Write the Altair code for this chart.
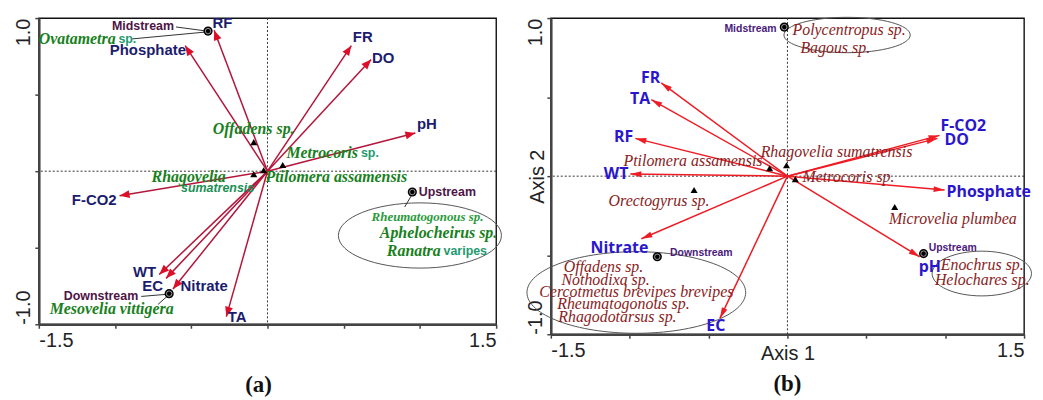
import math
import altair as alt
import pandas as pd

# ---------------- axis ticks ----------------
X_TICKS = [-1.5, -1.0, -0.5, 0.0, 0.5, 1.0, 1.5]
X_TICK_LABELS = ["-1.5", "", "", "", "", "", "1.5"]
Y_TICKS = [-1.0, -0.5, 0.0, 0.5, 1.0]
Y_TICK_LABELS = ["-1.0", "", "", "", "1.0"]

# ---------------- panel (a) ----------------
A_ENV = ["RF", "Phosphate", "FR", "DO", "pH", "F-CO2", "WT", "EC", "Nitrate", "TA"]
A_ENV_X = [-0.35, -0.54, 0.55, 0.68, 0.97, -0.97, -0.71, -0.665, -0.62, -0.27]
A_ENV_Y = [0.92, 0.82, 0.82, 0.73, 0.25, -0.16, -0.675, -0.70, -0.77, -0.95]
A_ENV_LX = [-0.36, -0.535, 0.56, 0.685, 0.98, -0.99, -0.73, -0.685, -0.57, -0.26]
A_ENV_LY = [0.965, 0.79, 0.877, 0.74, 0.31, -0.19, -0.66, -0.75, -0.75, -0.95]
A_ENV_SIDE = ["left", "right", "left", "left", "left", "right", "right", "right", "left", "left"]

A_SITE = ["Midstream", "Upstream", "Downstream"]
A_SITE_X = [-0.39, 0.95, -0.645]
A_SITE_Y = [0.915, -0.136, -0.80]
A_SITE_LX = [-0.613, 0.992, -0.848]
A_SITE_LY = [0.948, -0.136, -0.818]
A_SITE_SIDE = ["right", "left", "right"]

A_TRI = ["Offadens sp.", "Rhagovelia sumatrensis", "Ptilomera assamensis", "Metrocoris sp."]
A_TRI_X = [-0.09, -0.09, -0.025, 0.10]
A_TRI_Y = [0.19, -0.02, 0.006, 0.04]

A_SP = ["Offadens sp.", "Rhagovelia", "Ptilomera assamensis", "Metrocoris",
        "Ovatametra", "Mesovelia vittigera", "Aphelocheirus sp.", "Ranatra"]
A_SP_LX = [-0.359, -0.274, -0.013, 0.124, -1.5, -1.429, 1.122, 0.783]
A_SP_LY = [0.273, -0.039, -0.039, 0.117, 0.864, -0.903, -0.403, -0.519]
A_SP_SIDE = ["left", "right", "left", "left", "left", "left", "center", "left"]

A_SP_SMALL = ["Rheumatogonous sp."]
A_SP_SMALL_X = [1.05]
A_SP_SMALL_Y = [-0.299]

A_SUB_IT = ["sumatrensis"]
A_SUB_IT_X = [-0.567]
A_SUB_IT_Y = [-0.110]

A_SUB = ["sp.", "sp.", "varipes"]
A_SUB_X = [-0.978, 0.613, 1.155]
A_SUB_Y = [0.864, 0.117, -0.519]

A_LEAD_X = [-0.600, -0.887, -0.828, -0.718, 0.900]
A_LEAD_Y = [0.942, 0.864, -0.818, -0.870, -0.234]
A_LEAD_X2 = [-0.404, -0.404, -0.672, -0.659, 0.946]
A_LEAD_Y2 = [0.916, 0.909, -0.805, -0.818, -0.156]

A_ELL_X = [1.0]
A_ELL_Y = [-0.42]

# ---------------- panel (b) ----------------
B_ENV = ["FR", "TA", "RF", "WT", "F-CO2", "DO", "Phosphate", "Nitrate", "EC", "pH"]
B_ENV_X = [-0.80, -0.863, -0.964, -0.996, 0.964, 0.951, 0.996, -0.926, -0.428, 0.838]
B_ENV_Y = [0.59, 0.484, 0.239, 0.013, 0.258, 0.239, -0.088, -0.396, -0.90, -0.51]
B_ENV_LX = [-0.807, -0.87, -0.977, -1.008, 0.97, 0.996, 1.008, -1.065, -0.454, 0.832]
B_ENV_LY = [0.623, 0.49, 0.25, 0.013, 0.314, 0.226, -0.10, -0.453, -0.95, -0.572]
B_ENV_SIDE = ["right", "right", "right", "right", "left", "left", "left", "center", "center", "left"]

B_SITE = ["Midstream", "Downstream", "Upstream"]
B_SITE_X = [-0.02, -0.825, 0.863]
B_SITE_Y = [0.943, -0.51, -0.49]
B_SITE_LX = [-0.069, -0.744, 0.895]
B_SITE_LY = [0.931, -0.484, -0.453]
B_SITE_SIDE = ["right", "left", "left"]

B_TRI = ["Ptilomera assamensis", "Rhagovelia sumatrensis", "Metrocoris sp.",
         "Orectogyrus sp.", "Microvelia plumbea"]
B_TRI_X = [-0.113, -0.006, 0.05, -0.592, 0.68]
B_TRI_Y = [0.05, 0.069, -0.019, -0.088, -0.195]

B_SP = ["Ptilomera assamensis", "Rhagovelia sumatrensis", "Metrocoris sp.", "Orectogyrus sp.",
        "Microvelia plumbea", "Polycentropus sp.", "Bagous sp.", "Offadens sp.", "Nothodixa sp.",
        "Cercotmetus brevipes brevipes", "Rheumatogonous sp.", "Rhagodotarsus sp.",
        "Enochrus sp.", "Helochares sp."]
B_SP_LX = [-0.158, -0.170, 0.095, -1.134, 0.643, 0.032, 0.082, -1.166, -1.153,
           -0.958, -1.040, -1.078, 1.235, 1.235]
B_SP_LY = [0.094, 0.151, -0.006, -0.157, -0.270, 0.925, 0.811, -0.572, -0.660,
           -0.736, -0.811, -0.893, -0.560, -0.660]
B_SP_SIDE = ["right", "left", "left", "left", "left", "left", "left", "center", "center",
             "center", "center", "center", "center", "center"]

B_ELL_NAME = ["top", "down", "up"]
B_ELL_X = [0.378, -0.958, 1.232]
B_ELL_Y = [0.893, -0.736, -0.616]


# ---------------- helpers ----------------
def label_expr(vals, labels):
    parts = [f"datum.value == {v} ? '{l}'" for v, l in zip(vals, labels) if l]
    return " : ".join(parts) + " : ''"


AXIS_COMMON = dict(
    labelFont="Liberation Sans", labelFontSize=20, labelColor="#222",
    tickSize=4, tickColor="#444", tickWidth=1.5,
    domainColor="#444", domainWidth=2.5, grid=False, labelOverlap=False,
)


def make_x_axis(title, **kw):
    return alt.Axis(values=X_TICKS, labelExpr=label_expr(X_TICKS, X_TICK_LABELS),
                    labelFlush=True, labelPadding=2, title=title, **AXIS_COMMON, **kw)


def make_y_axis(title, **kw):
    return alt.Axis(values=Y_TICKS, labelExpr=label_expr(Y_TICKS, Y_TICK_LABELS),
                    labelAngle=270, labelFlush=False, labelPadding=1,
                    labelAlign={"condition": {"test": "datum.value > 0", "value": "right"},
                                "value": "left"},
                    labelBaseline="bottom", title=title, **AXIS_COMMON, **kw)


def ellipse_path(ratio):
    r = f"{ratio:.3f}"
    return f"M-1,0A1,{r},0,1,1,1,0A1,{r},0,1,1,-1,0Z"


def build_panel(width, height, xaxis, yaxis, env, sites, tris, texts, leads, ellipses,
                arrow_line, arrow_head, head_path, title):
    xs = alt.Scale(domain=[-1.5, 1.5], nice=False, zero=False)
    ys = alt.Scale(domain=[-1.0, 1.0], nice=False, zero=False)

    def X(f):
        return alt.X(f, type="quantitative", scale=xs, axis=xaxis)

    def Y(f):
        return alt.Y(f, type="quantitative", scale=ys, axis=yaxis)

    sxp = width / 3.0
    syp = height / 2.0
    env = env.copy()
    env["ox"] = 0.0
    env["oy"] = 0.0
    env["ang"] = [(math.degrees(math.atan2(x * sxp, y * syp)) + 360) % 360
                  for x, y in zip(env["x"], env["y"])]

    zero = pd.DataFrame({"v": [0.0]})
    layers = [
        alt.Chart(zero).mark_rule(color="#333", strokeWidth=1, strokeDash=[2, 2]).encode(x=X("v")),
        alt.Chart(zero).mark_rule(color="#333", strokeWidth=1, strokeDash=[2, 2]).encode(y=Y("v")),
    ]
    for e in ellipses:
        layers.append(alt.Chart(e["df"]).mark_point(
            shape=ellipse_path(e["ratio"]), size=e["w"] ** 2, filled=False,
            stroke="#555", strokeWidth=1, opacity=1).encode(x=X("x"), y=Y("y")))
    layers.append(alt.Chart(env).mark_rule(color=arrow_line, strokeWidth=1.5).encode(
        x=X("ox"), y=Y("oy"), x2="x:Q", y2="y:Q"))
    layers.append(alt.Chart(env).mark_point(
        shape=head_path, size=100, filled=True, color=arrow_head, opacity=1).encode(
        x=X("x"), y=Y("y"), angle=alt.Angle("ang:Q", scale=None)))
    if leads is not None:
        layers.append(alt.Chart(leads).mark_rule(color="#333", strokeWidth=1).encode(
            x=X("x"), y=Y("y"), x2="x2:Q", y2="y2:Q"))
    layers.append(alt.Chart(tris).mark_point(
        shape="triangle-up", size=50, filled=True, color="black", opacity=1).encode(
        x=X("x"), y=Y("y")))
    layers.append(alt.Chart(sites).mark_point(
        shape="circle", size=85, filled=True, color="black", opacity=1).encode(
        x=X("x"), y=Y("y")))
    layers.append(alt.Chart(sites).mark_point(
        shape="circle", size=30, filled=False, stroke="#bbb", strokeWidth=0.8, opacity=1).encode(
        x=X("x"), y=Y("y")))
    for t in texts:
        df = t["df"]
        for side in ["left", "right", "center"]:
            sub = df[df["side"] == side]
            if len(sub) == 0:
                continue
            mk = dict(align=side, baseline="middle", font=t["font"], fontSize=t["size"],
                      color=t["color"])
            if "weight" in t:
                mk["fontWeight"] = t["weight"]
            if "style" in t:
                mk["fontStyle"] = t["style"]
            layers.append(alt.Chart(sub).mark_text(**mk).encode(
                x=X("lx"), y=Y("ly"), text="name:N"))
    return alt.layer(*layers).properties(width=width, height=height, title=title)


def text_df(names, lx, ly, side):
    return pd.DataFrame({"name": names, "lx": lx, "ly": ly, "side": side})


# ---------------- panel (a) assembly ----------------
a_env = pd.DataFrame({"x": A_ENV_X, "y": A_ENV_Y})
a_sites = pd.DataFrame({"x": A_SITE_X, "y": A_SITE_Y})
a_tris = pd.DataFrame({"name": A_TRI, "x": A_TRI_X, "y": A_TRI_Y})
a_leads = pd.DataFrame({"x": A_LEAD_X, "y": A_LEAD_Y, "x2": A_LEAD_X2, "y2": A_LEAD_Y2})
a_texts = [
    dict(df=text_df(A_ENV, A_ENV_LX, A_ENV_LY, A_ENV_SIDE), font="Liberation Sans", size=15,
         weight="bold", color="#1c1c6e"),
    dict(df=text_df(A_SITE, A_SITE_LX, A_SITE_LY, A_SITE_SIDE), font="Liberation Sans", size=12.5,
         weight="bold", color="#4d1446"),
    dict(df=text_df(A_SP, A_SP_LX, A_SP_LY, A_SP_SIDE), font="Liberation Serif", size=16,
         weight="bold", style="italic", color="#18801c"),
    dict(df=text_df(A_SP_SMALL, A_SP_SMALL_X, A_SP_SMALL_Y, ["center"]), font="Liberation Serif",
         size=13, weight="bold", style="italic", color="#2a9a3a"),
    dict(df=text_df(A_SUB_IT, A_SUB_IT_X, A_SUB_IT_Y, ["left"]), font="Liberation Sans",
         size=12.5, weight="bold", style="italic", color="#1a8f55"),
    dict(df=text_df(A_SUB, A_SUB_X, A_SUB_Y, ["left"] * len(A_SUB)), font="Liberation Sans",
         size=12.5, weight="bold", color="#1f9a70"),
]
a_ell = [dict(df=pd.DataFrame({"x": A_ELL_X, "y": A_ELL_Y}), ratio=0.40, w=164)]

panel_a = build_panel(
    460, 308, make_x_axis(""), make_y_axis(""), a_env, a_sites, a_tris, a_texts, a_leads, a_ell,
    "#b3163a", "#dc0f2a", "M0,0L0.8,2L-0.8,2Z",
    alt.TitleParams("(a)", orient="bottom", font="Liberation Serif", fontSize=23,
                    fontWeight="bold", color="#111", offset=24, dx=-9),
)

# ---------------- panel (b) assembly ----------------
b_env = pd.DataFrame({"x": B_ENV_X, "y": B_ENV_Y})
b_sites = pd.DataFrame({"x": B_SITE_X, "y": B_SITE_Y})
b_tris = pd.DataFrame({"name": B_TRI, "x": B_TRI_X, "y": B_TRI_Y})
b_texts = [
    dict(df=text_df(B_ENV, B_ENV_LX, B_ENV_LY, B_ENV_SIDE), font="Open Sans", size=16,
         weight="bold", color="#2a16cc"),
    dict(df=text_df(B_SITE, B_SITE_LX, B_SITE_LY, B_SITE_SIDE), font="Liberation Sans", size=10.5,
         weight="bold", color="#4a1a7a"),
    dict(df=text_df(B_SP, B_SP_LX, B_SP_LY, B_SP_SIDE), font="Liberation Serif", size=16,
         style="italic", color="#8a1c1c"),
]
b_ell = [
    dict(df=pd.DataFrame({"x": [B_ELL_X[0]], "y": [B_ELL_Y[0]]}), ratio=0.28, w=127),
    dict(df=pd.DataFrame({"x": [B_ELL_X[1]], "y": [B_ELL_Y[1]]}), ratio=0.373, w=220),
    dict(df=pd.DataFrame({"x": [B_ELL_X[2]], "y": [B_ELL_Y[2]]}), ratio=0.45, w=100),
]

b_xaxis = make_x_axis("Axis 1", titleFont="Liberation Sans", titleFontSize=20,
                      titleFontWeight="normal", titleColor="#222", titleX=238, titleY=25,
                      titleBaseline="alphabetic", titleAlign="center")
b_yaxis = make_y_axis("Axis 2", titleFont="Liberation Sans", titleFontSize=20,
                      titleFontWeight="normal", titleColor="#222", titleAngle=270,
                      titleX=-7, titleY=159, titleBaseline="alphabetic", titleAlign="center")

panel_b = build_panel(
    476, 318, b_xaxis, b_yaxis, b_env, b_sites, b_tris, b_texts, None, b_ell,
    "#ee1c25", "#ee1c25", "M0,0L0.6,2.2L-0.6,2.2Z",
    alt.TitleParams("(b)", orient="bottom", font="Liberation Serif", fontSize=23,
                    fontWeight="bold", color="#111", offset=10),
)

chart = alt.hconcat(panel_a, panel_b, spacing=55, bounds="flush").properties(
    padding={"left": 5, "top": 5, "right": 0, "bottom": 0}
).configure_view(stroke="#111", strokeWidth=1.4)

chart.save("out.html", embed_options={"renderer": "svg", "actions": False})
